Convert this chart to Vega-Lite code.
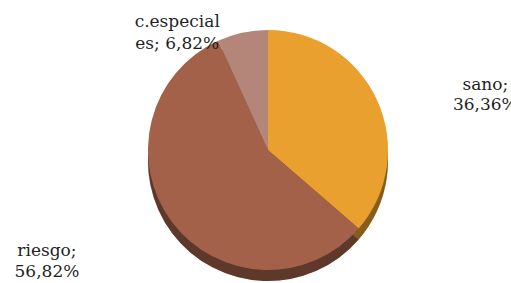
{
  "$schema": "https://vega.github.io/schema/vega-lite/v6.json",
  "width": 486,
  "height": 276,
  "autosize": {"type": "none"},
  "padding": {"left": 25, "top": 12, "right": 0, "bottom": 0},
  "background": "#ffffff",
  "view": {"stroke": null},
  "data": {
    "values": [
      {"category": "sano", "value": 36.36, "label": "sano;\n36,36%"},
      {"category": "riesgo", "value": 56.82, "label": "riesgo;\n56,82%"},
      {"category": "c.especiales", "value": 6.82, "label": "c.especial\nes; 6,82%"}
    ]
  },
  "encoding": {
    "theta": {"field": "value", "type": "quantitative", "stack": true},
    "order": {"field": "category", "type": "nominal", "sort": "descending"}
  },
  "layer": [
    {
      "mark": {"type": "arc", "radius": 120, "yOffset": 11},
      "encoding": {
        "color": {
          "field": "category",
          "type": "nominal",
          "scale": {"domain": ["sano", "riesgo", "c.especiales"], "range": ["#E9A02F", "#A3614A", "#B38679"]},
          "legend": null
        }
      }
    },
    {
      "mark": {"type": "arc", "radius": 120, "yOffset": 11, "fill": "#000000", "fillOpacity": 0.42},
      "encoding": {"detail": {"field": "category", "type": "nominal"}}
    },
    {
      "mark": {"type": "arc", "radius": 120},
      "encoding": {
        "color": {"field": "category", "type": "nominal", "legend": null}
      }
    },
    {
      "mark": {"type": "text", "radius": 140, "dx": -61, "dy": 9, "font": "DejaVu Serif", "fontSize": 17, "fill": "#1f1f1f", "lineBreak": "\n", "lineHeight": 22, "align": "center", "baseline": "middle"},
      "encoding": {
        "detail": {"field": "category", "type": "nominal"},
        "text": {"condition": {"test": "datum.category === 'c.especiales'", "field": "label", "type": "nominal"}, "value": ""}
      }
    },
    {
      "mark": {"type": "text", "radius": 140, "dx": 90, "dy": -7, "font": "DejaVu Serif", "fontSize": 17, "fill": "#1f1f1f", "lineBreak": "\n", "lineHeight": 20, "align": "center", "baseline": "middle"},
      "encoding": {
        "detail": {"field": "category", "type": "nominal"},
        "text": {"condition": {"test": "datum.category === 'sano'", "field": "label", "type": "nominal"}, "value": ""}
      }
    },
    {
      "mark": {"type": "text", "radius": 140, "dx": -109, "dy": 17, "font": "DejaVu Serif", "fontSize": 17, "fill": "#1f1f1f", "lineBreak": "\n", "lineHeight": 21, "align": "center", "baseline": "middle"},
      "encoding": {
        "detail": {"field": "category", "type": "nominal"},
        "text": {"condition": {"test": "datum.category === 'riesgo'", "field": "label", "type": "nominal"}, "value": ""}
      }
    }
  ]
}
